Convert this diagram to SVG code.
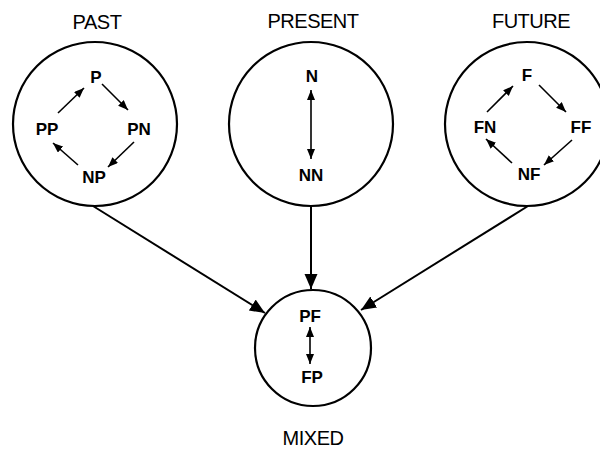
<svg xmlns="http://www.w3.org/2000/svg" width="600" height="449" viewBox="0 0 600 449">
<defs>
<style>
.ring{fill:none;stroke:#000;stroke-width:2.2}
.title{font-family:"Liberation Sans",Arial,sans-serif;font-size:20px;text-anchor:middle;fill:#000;letter-spacing:-0.5px}
.lbl{font-family:"Liberation Sans",Arial,sans-serif;font-size:17px;font-weight:bold;text-anchor:middle;fill:#000}
.sm{fill:none;stroke:#000;stroke-width:1.6;marker-end:url(#ah)}
.dbl{fill:none;stroke:#000;stroke-width:1.6;marker-end:url(#ah);marker-start:url(#ah)}
.big{fill:none;stroke:#000;stroke-width:2;marker-end:url(#bh)}
</style>
<marker id="ah" markerUnits="userSpaceOnUse" markerWidth="11" markerHeight="9" refX="10" refY="4" orient="auto-start-reverse"><path d="M0,0 L10,4 L0,8 z" fill="#000"/></marker>
<marker id="bh" markerUnits="userSpaceOnUse" markerWidth="16" markerHeight="14" refX="15" refY="6.5" orient="auto"><path d="M0,0 L15,6.5 L0,13 z" fill="#000"/></marker>
</defs>
<rect width="600" height="449" fill="#fff"/>
<g id="past">
<text class="title" x="97" y="29">PAST</text>
<circle class="ring" cx="95" cy="124" r="82"/>
<text class="lbl" x="96" y="83">P</text>
<text class="lbl" x="47" y="135">PP</text>
<text class="lbl" x="139" y="135">PN</text>
<text class="lbl" x="94" y="183">NP</text>
</g>
<g id="present">
<text class="title" x="313" y="28">PRESENT</text>
<circle class="ring" cx="311" cy="124" r="82"/>
<text class="lbl" x="312" y="82">N</text>
<text class="lbl" x="311" y="181">NN</text>
</g>
<g id="future">
<text class="title" x="531" y="28">FUTURE</text>
<circle class="ring" cx="527" cy="124" r="82"/>
<text class="lbl" x="527" y="81">F</text>
<text class="lbl" x="485" y="133">FN</text>
<text class="lbl" x="581" y="133">FF</text>
<text class="lbl" x="529" y="180">NF</text>
</g>
<g id="mixed">
<circle class="ring" cx="313" cy="348" r="58"/>
<text class="lbl" x="310" y="322">PF</text>
<text class="lbl" x="312" y="383">FP</text>
<text class="title" x="313" y="445">MIXED</text>
</g>
<g id="connectors">
<line class="sm" x1="58" y1="113" x2="84" y2="88"/>
<line class="sm" x1="102" y1="84" x2="128" y2="110"/>
<line class="sm" x1="134" y1="142" x2="108" y2="167"/>
<line class="sm" x1="78" y1="165" x2="53" y2="143"/>
<line class="dbl" x1="311" y1="90" x2="311" y2="159"/>
<line class="sm" x1="487" y1="112" x2="513" y2="86"/>
<line class="sm" x1="539" y1="85" x2="566" y2="112"/>
<line class="sm" x1="572" y1="140" x2="544" y2="165"/>
<line class="sm" x1="512" y1="163" x2="486" y2="139"/>
<line class="dbl" x1="310" y1="327" x2="310" y2="364"/>
<line class="big" x1="93" y1="206" x2="265" y2="313"/>
<line class="big" x1="311" y1="206" x2="311" y2="289"/>
<line class="big" x1="528" y1="206" x2="361" y2="310"/>
</g>
</svg>
